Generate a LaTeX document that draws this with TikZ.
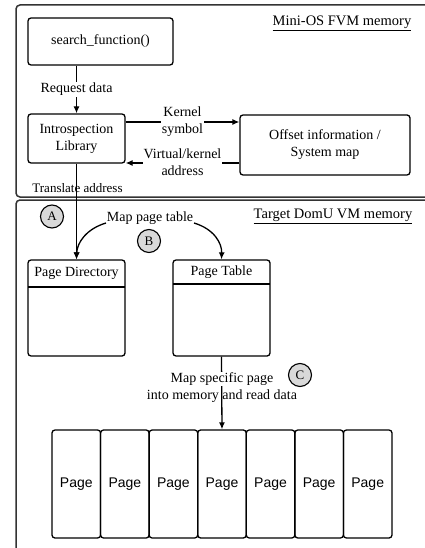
\documentclass[tikz,border=0pt]{standalone}
\usepackage{fontspec}
\setmainfont{Liberation Serif}
\newfontfamily\sansf{Liberation Sans}
\usetikzlibrary{arrows.meta}
\begin{document}
\begin{tikzpicture}[x=1pt,y=-1pt,
  every node/.style={font=\fontsize{14}{17}\selectfont, inner sep=1pt},
  box/.style={draw, line width=1.3pt, rounded corners=3pt, align=center, inner sep=0pt},
  region/.style={draw=black!80, line width=1.5pt, rounded corners=4pt},
  conn/.style={line width=1.3pt, -{Latex[length=7pt,width=6pt]}},
  lbl/.style={align=center, fill=white, inner sep=1pt},
  stepmark/.style={circle, draw, line width=1.1pt, fill=black!15, minimum size=23pt, inner sep=0pt, font=\fontsize{13}{15}\selectfont},
  pagebox/.style={draw, line width=1.3pt, rounded corners=3pt, minimum width=48.6pt, minimum height=108pt, inner sep=0pt, font=\sansf\fontsize{14}{17}\selectfont},
  title/.style={font=\fontsize{14.5}{17}\selectfont}
]
\clip (0,0) rectangle (425,548);
% regions
\draw[region] (16,5) rectangle (470,197);
\draw[region] (16,200) rectangle (470,620);
\node[title] (t1) at (342,23) {\underline{Mini-OS FVM memory}};
\node[title] (t2) at (333,216) {\underline{Target DomU VM memory}};
% top nodes
\node[box, minimum width=145pt, minimum height=47pt] (search) at (100.5,41.5) {search\_function()};
\node[box, minimum width=97pt, minimum height=49pt] (intro) at (76.5,138.5) {Introspection\\Library};
\node[box, minimum width=170pt, minimum height=60pt] (offset) at (325,145) {Offset information /\\System map};
% page directory / table
\node[box, minimum width=97pt, minimum height=96pt] (pd) at (76.5,308) {};
\node[box, minimum width=97pt, minimum height=96pt] (pt) at (221.5,308) {};
\draw[line width=1.3pt] (28,287) -- (125,287);
\draw[line width=1.3pt] (173,284) -- (270,284);
\node (pdt) at (76.5,273) {Page Directory};
\node (ptt) at (221.5,272) {Page Table};
% pages
\foreach \i in {1,...,7} {
  \node[pagebox] (p\i) at ({52+(\i-0.5)*48.57},484) {Page};
}
% connectors
\draw[conn] (intro.north |- search.south) -- node[lbl] {Request data} (intro.north);
\draw[conn] (intro.east |- 0,122) -- node[lbl, pos=0.5] {Kernel\\symbol} (offset.west |- 0,122);
\draw[conn] (offset.west |- 0,163) -- node[lbl, pos=0.5, yshift=1pt] {Virtual/kernel\\address} (intro.east |- 0,163);
\draw[conn] (intro.south) -- (pd.north);
\node (tr) at (77.5,188) {\fontsize{13}{15}\selectfont Translate address};
\node (mpt) at (150,218) {Map page table};
\coordinate (la) at (106,223);
\coordinate (ra) at (194,223);
\draw[conn] (la) .. controls (86,229) and (77,243) .. (pd.north);
\draw[conn] (ra) .. controls (214,229) and (222,243) .. (pt.north);
\draw[conn] (pt.south) -- (p4.north);
\node[fill=white, inner sep=1pt] (msp) at (222,379) {Map specific page};
\node (imr) at (222,396) {into memory and read data};
% markers
\node[stepmark] (A) at (52,216.5) {A};
\node[stepmark] (B) at (149,241) {B};
\node[stepmark] (C) at (300,375) {C};
\end{tikzpicture}
\end{document}
